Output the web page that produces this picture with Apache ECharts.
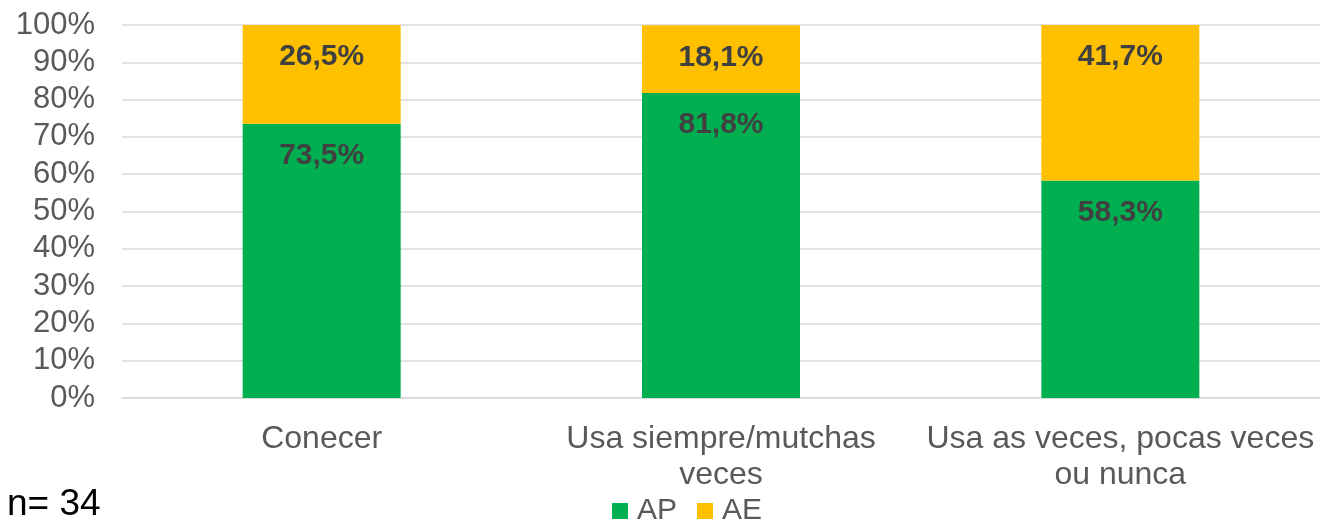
<!DOCTYPE html>
<html>
<head>
<meta charset="utf-8">
<script src="https://cdn.jsdelivr.net/npm/echarts@6/dist/echarts.min.js"></script>
<style>
html, body { margin: 0; padding: 0; background: #fff; }
#chart { width: 1320px; height: 523px; }
</style>
</head>
<body>
<div id="chart"></div>
<script>
// datos
var categorias = ['Conecer', 'Usa siempre/mutchas\nveces', 'Usa as veces, pocas veces\nou nunca'];
var valoresAP = [73.5, 81.8, 58.3];
var valoresAE = [26.5, 18.1, 41.7];
var ticksY = [0, 10, 20, 30, 40, 50, 60, 70, 80, 90, 100];

var fuente = '"Liberation Sans", Arial, sans-serif';

function etiqueta(p) {
    return p.value.toFixed(1).replace('.', ',') + '%';
}

var grafico = echarts.init(document.getElementById('chart'));
var opcion = {
    animation: false,
    textStyle: { fontFamily: fuente },
    grid: {
        top: 25,
        left: 122,
        right: 0,
        bottom: 125,
        containLabel: false
    },
    legend: {
        data: ['AP', 'AE'],
        top: 496,
        left: 612,
        padding: 0,
        itemWidth: 16,
        itemHeight: 16,
        itemGap: 20,
        icon: 'rect',
        textStyle: { fontSize: 30, color: '#595959', fontFamily: fuente, padding: [0, 0, 0, 4] }
    },
    graphic: [{
        type: 'text',
        left: 7,
        top: 486,
        style: { text: 'n= 34', fontSize: 37, fill: '#000', fontFamily: fuente }
    }],
    xAxis: {
        type: 'category',
        data: categorias,
        axisLine: { show: true, lineStyle: { color: '#d9d9d9', width: 1.5 } },
        axisTick: { show: false },
        axisLabel: {
            fontSize: 32,
            color: '#595959',
            lineHeight: 36,
            margin: 23,
            interval: 0
        }
    },
    yAxis: {
        type: 'value',
        min: ticksY[0],
        max: ticksY[ticksY.length - 1],
        interval: 10,
        axisLine: { show: false },
        axisTick: { show: false },
        splitLine: { lineStyle: { color: '#d9d9d9', width: 1.5 } },
        axisLabel: {
            fontSize: 31,
            color: '#595959',
            margin: 27,
            formatter: '{value}%'
        }
    },
    series: [{
        name: 'AP',
        type: 'bar',
        stack: 'total',
        barWidth: 158,
        data: valoresAP,
        itemStyle: { color: '#00B050' },
        label: {
            show: true,
            position: 'insideTop',
            distance: 17,
            fontSize: 30,
            fontWeight: 'bold',
            color: '#404040',
            formatter: etiqueta
        }
    }, {
        name: 'AE',
        type: 'bar',
        stack: 'total',
        barWidth: 158,
        data: valoresAE,
        itemStyle: { color: '#FFC000' },
        label: {
            show: true,
            position: 'insideTop',
            distance: 17,
            fontSize: 30,
            fontWeight: 'bold',
            color: '#404040',
            formatter: etiqueta
        }
    }]
};
grafico.setOption(opcion);
</script>
</body>
</html>
